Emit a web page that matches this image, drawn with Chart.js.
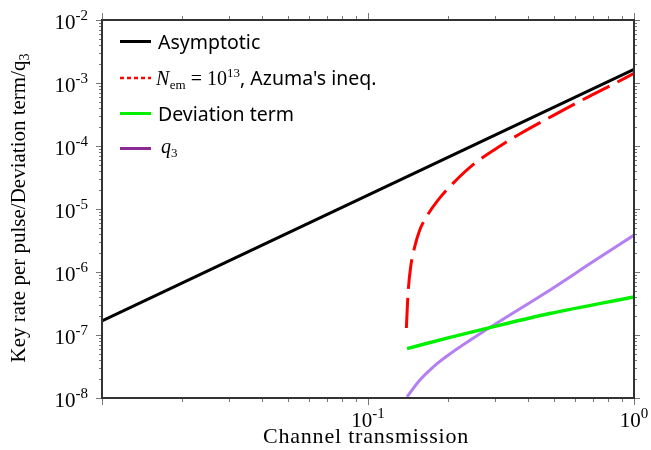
<!DOCTYPE html>
<html>
<head>
<meta charset="utf-8">
<script src="https://cdn.jsdelivr.net/npm/chart.js@4/dist/chart.umd.min.js"></script>
<style>
html,body{margin:0;padding:0;background:#fff;}
#c{display:block;}
</style>
</head>
<body>
<canvas id="c" width="651" height="450"></canvas>
<script>
// ---- data ----
const asymX = [0.01, 0.03, 0.1, 0.3, 1.0];
const asymY = [1.67e-7, 1.50e-6, 1.66e-5, 1.49e-4, 1.65e-3];

const azumaX = [0.1394, 0.1414, 0.1447, 0.1498, 0.1564, 0.1658, 0.1833, 0.2087, 0.2518, 0.3173, 0.3718, 0.496, 0.662, 0.810, 1.0];
const azumaY = [1.29e-7, 4.55e-7, 1.21e-6, 2.51e-6, 4.61e-6, 7.5e-6, 1.38e-5, 2.55e-5, 5.29e-5, 1.03e-4, 1.55e-4, 3.04e-4, 5.81e-4, 8.97e-4, 1.42e-3];

const devX = [0.1402, 0.2, 0.2868, 0.482, 1.0];
const devY = [6.09e-8, 9.0e-8, 1.31e-7, 2.19e-7, 4.02e-7];

const q3X = [0.1402, 0.1564, 0.1756, 0.2, 0.2868, 0.482, 0.7, 1.0];
const q3Y = [1.04e-8, 1.91e-8, 3.1e-8, 4.77e-8, 1.31e-7, 5.14e-7, 1.45e-6, 3.85e-6];

const seriesNames = ['Asymptotic', 'Azuma', 'Deviation term', 'q3'];
const xLabelValues = [0.1, 1];
const xLabelExps = ['-1', '0'];
const yLabelValues = [1e-2, 1e-3, 1e-4, 1e-5, 1e-6, 1e-7, 1e-8];
const yLabelExps = ['-2', '-3', '-4', '-5', '-6', '-7', '-8'];
const xTitle = 'Channel transmission';
const yTitleMain = 'Key rate per pulse/Deviation term/q';
const yTitleSub = '3';

const pts = (xs, ys) => xs.map((x, i) => ({x: x, y: ys[i]}));

const SERIF = '"Liberation Serif", "DejaVu Serif", serif';
const SANS = '"Noto Sans", "DejaVu Sans", sans-serif';

function drawPow(ctx, x, y, exp, align, size, supSize) {
  ctx.font = size + 'px ' + SERIF;
  const w1 = ctx.measureText('10').width;
  ctx.font = supSize + 'px ' + SERIF;
  const w2 = ctx.measureText(exp).width;
  const tot = w1 + w2;
  let x0 = x;
  if (align === 'right') x0 = x - tot;
  else if (align === 'center') x0 = x - tot / 2;
  ctx.textAlign = 'left';
  ctx.textBaseline = 'alphabetic';
  ctx.font = size + 'px ' + SERIF;
  ctx.fillText('10', x0, y);
  ctx.font = supSize + 'px ' + SERIF;
  ctx.fillText(exp, x0 + w1, y - size * 0.42);
}

const decor = {
  id: 'decor',
  afterDraw(chart) {
    const ctx = chart.ctx;
    const a = chart.chartArea;
    const xs = chart.scales.x, ys = chart.scales.y;
    ctx.save();
    // ticks
    ctx.strokeStyle = '#777';
    ctx.lineWidth = 1;
    ctx.beginPath();
    for (let e = -8; e <= -2; e++) {
      for (let k = 1; k <= 9; k++) {
        const v = k * Math.pow(10, e);
        if (v > 1.0001e-2) continue;
        const py = Math.round(ys.getPixelForValue(v)) + 0.5;
        const len = k === 1 ? 6 : 3;
        ctx.moveTo(a.left - len, py); ctx.lineTo(a.left, py);
        ctx.moveTo(a.right, py); ctx.lineTo(a.right + len, py);
      }
    }
    for (let e = -2; e <= 0; e++) {
      for (let k = 1; k <= 9; k++) {
        const v = k * Math.pow(10, e);
        if (v > 1.0001) continue;
        const px = Math.round(xs.getPixelForValue(v)) + 0.5;
        const len = k === 1 ? 7 : 4;
        ctx.moveTo(px, a.bottom); ctx.lineTo(px, a.bottom + len);
        ctx.moveTo(px, a.top - len); ctx.lineTo(px, a.top);
      }
    }
    ctx.stroke();
    // frame
    ctx.strokeStyle = '#333';
    ctx.lineWidth = 2;
    ctx.strokeRect(a.left, a.top, a.right - a.left, a.bottom - a.top);
    // tick labels
    ctx.fillStyle = '#000';
    yLabelValues.forEach((v, i) => {
      const py = ys.getPixelForValue(v);
      drawPow(ctx, 88, py + 9, yLabelExps[i], 'right', 21, 15);
    });
    xLabelValues.forEach((v, i) => {
      const px = xs.getPixelForValue(v);
      drawPow(ctx, px, 427, xLabelExps[i], 'center', 21, 15);
    });
    // x title
    ctx.font = '22px ' + SERIF;
    try { ctx.letterSpacing = '0.8px'; } catch (e) {}
    ctx.textAlign = 'center';
    ctx.textBaseline = 'alphabetic';
    ctx.fillText(xTitle, 366, 443);
    try { ctx.letterSpacing = '0px'; } catch (e) {}
    // y title
    ctx.save();
    ctx.translate(25, 208);
    ctx.rotate(-Math.PI / 2);
    ctx.font = '21px ' + SERIF;
    const wm = ctx.measureText(yTitleMain).width;
    ctx.font = '14px ' + SERIF;
    const ws = ctx.measureText(yTitleSub).width;
    const x0 = -(wm + ws) / 2;
    ctx.textAlign = 'left';
    ctx.font = '21px ' + SERIF;
    ctx.fillText(yTitleMain, x0, 0);
    ctx.font = '14px ' + SERIF;
    ctx.fillText(yTitleSub, x0 + wm, 4);
    ctx.restore();

    // legend
    const lx0 = 120, lx1 = 151, tx = 158;
    const rows = [41.5, 78, 113.5, 148.5];
    ctx.lineCap = 'butt';
    ctx.lineWidth = 3; ctx.strokeStyle = '#000'; ctx.setLineDash([]);
    ctx.beginPath(); ctx.moveTo(lx0, rows[0]); ctx.lineTo(lx1, rows[0]); ctx.stroke();
    ctx.lineWidth = 2.5; ctx.strokeStyle = '#ff0000'; ctx.setLineDash([4, 3]);
    ctx.beginPath(); ctx.moveTo(lx0, rows[1]); ctx.lineTo(lx1, rows[1]); ctx.stroke();
    ctx.setLineDash([]);
    ctx.lineWidth = 3; ctx.strokeStyle = '#00f000';
    ctx.beginPath(); ctx.moveTo(lx0, rows[2]); ctx.lineTo(lx1, rows[2]); ctx.stroke();
    ctx.strokeStyle = '#8b2a96';
    ctx.beginPath(); ctx.moveTo(lx0, rows[3]); ctx.lineTo(lx1, rows[3]); ctx.stroke();

    ctx.fillStyle = '#000';
    ctx.textAlign = 'left';
    ctx.textBaseline = 'alphabetic';
    ctx.font = '19.5px ' + SANS;
    ctx.fillText('Asymptotic', tx, rows[0] + 7);
    ctx.fillText('Deviation term', tx, rows[2] + 7);
    let cx = tx - 2;
    const by = rows[1] + 6.5;
    ctx.font = 'italic 20px ' + SERIF;
    ctx.fillText('N', cx, by); cx += ctx.measureText('N').width + 0.5;
    ctx.font = '13px ' + SERIF;
    ctx.fillText('em', cx, by + 4); cx += ctx.measureText('em').width;
    ctx.font = '20px ' + SERIF;
    ctx.fillText(' = 10', cx, by); cx += ctx.measureText(' = 10').width;
    ctx.font = '13px ' + SERIF;
    ctx.fillText('13', cx, by - 8); cx += ctx.measureText('13').width;
    ctx.font = '19.5px ' + SANS;
    ctx.fillText(", Azuma's ineq.", cx, by);
    cx = tx + 3;
    ctx.font = 'italic 20px ' + SERIF;
    ctx.fillText('q', cx, rows[3] + 4); cx += ctx.measureText('q').width;
    ctx.font = '13px ' + SERIF;
    ctx.fillText('3', cx, rows[3] + 8);
    ctx.restore();
  }
};

new Chart(document.getElementById('c'), {
  type: 'line',
  data: {
    datasets: [
      {label: seriesNames[0], data: pts(asymX, asymY), borderColor: '#000000', borderWidth: 3, pointRadius: 0, tension: 0},
      {label: seriesNames[1], data: pts(azumaX, azumaY), borderColor: '#ff0000', borderWidth: 3, pointRadius: 0,
       borderDash: [30, 9], cubicInterpolationMode: 'monotone'},
      {label: seriesNames[2], data: pts(devX, devY), borderColor: '#00f000', borderWidth: 3.5, pointRadius: 0, cubicInterpolationMode: 'monotone'},
      {label: seriesNames[3], data: pts(q3X, q3Y), borderColor: '#b47ff2', borderWidth: 3, pointRadius: 0, cubicInterpolationMode: 'monotone'}
    ]
  },
  options: {
    responsive: false,
    animation: false,
    layout: {padding: {left: 102, right: 17, top: 20, bottom: 52}},
    plugins: {legend: {display: false}, tooltip: {enabled: false}},
    scales: {
      x: {type: 'logarithmic', min: 0.01, max: 1, ticks: {display: false}, grid: {display: false}, border: {display: false},
          afterFit: s => { s.height = 0; }},
      y: {type: 'logarithmic', min: 1e-8, max: 1e-2, ticks: {display: false}, grid: {display: false}, border: {display: false},
          afterFit: s => { s.width = 0; }}
    }
  },
  plugins: [decor]
});
</script>
</body>
</html>
